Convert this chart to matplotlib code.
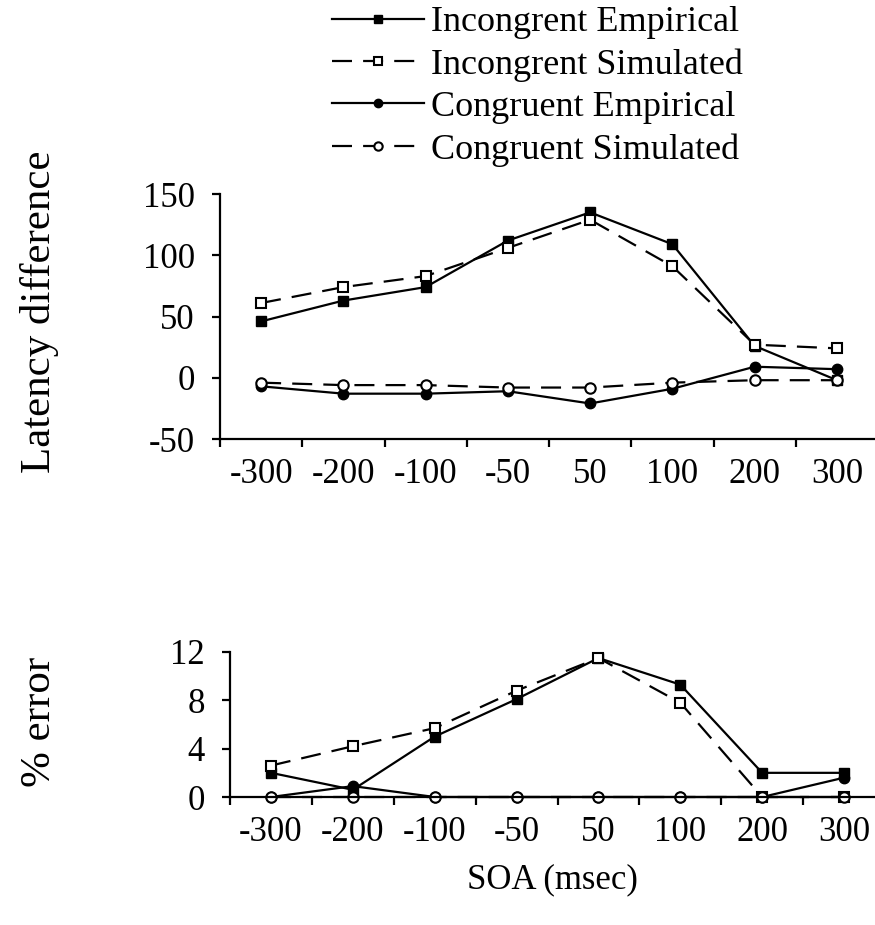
import numpy as np
import matplotlib.pyplot as plt
from matplotlib.ticker import FixedLocator, NullFormatter

plt.rcParams['font.family'] = ['Liberation Serif', 'DejaVu Serif']
plt.rcParams['axes.unicode_minus'] = False

# SOA categories
soa = ['-300', '-200', '-100', '-50', '50', '100', '200', '300']

# latency difference
lat_incon_emp = [46, 63, 74, 112, 135, 109, 26, -2]
lat_incon_sim = [61, 74, 83, 106, 129, 91, 27, 24]
lat_con_emp = [-7, -13, -13, -11, -21, -9, 9, 7]
lat_con_sim = [-4, -6, -6, -8, -8, -4, -2, -2]

# % error
err_incon_emp = [2.0, 0.6, 5.0, 8.1, 11.5, 9.3, 2.0, 2.0]
err_incon_sim = [2.6, 4.2, 5.7, 8.8, 11.5, 7.8, 0.0, 0.0]
err_con_emp = [0.0, 0.9, 0.0, 0.0, 0.0, 0.0, 0.0, 1.6]
err_con_sim = [0.0, 0.0, 0.0, 0.0, 0.0, 0.0, 0.0, 0.0]

labels = ['Incongrent Empirical', 'Incongrent Simulated',
          'Congruent Empirical', 'Congruent Simulated']

W, H = 875, 925
fig = plt.figure(figsize=(W / 100, H / 100), dpi=100)

FS = 25
lw = 1.6
dash = (0, (9, 5))
styles = [
    dict(ls='-', marker='s', mfc='black', mec='black', ms=7.5),
    dict(ls=dash, marker='s', mfc='white', mec='black', ms=7.5, mew=1.5),
    dict(ls='-', marker='o', mfc='black', mec='black', ms=7.5),
    dict(ls=dash, marker='o', mfc='white', mec='black', ms=7.5, mew=1.5),
]


def px_axes(left, top, right, bottom):
    return fig.add_axes([left / W, 1 - bottom / H, (right - left) / W, (bottom - top) / H])


def style_axes(ax, yticks):
    x = np.arange(len(soa))
    ax.set_xlim(-0.5, len(soa) - 0.5)
    ax.set_xticks(x)
    ax.set_xticklabels(soa)
    ax.xaxis.set_minor_locator(FixedLocator(np.arange(-0.5, len(soa), 1.0)))
    ax.xaxis.set_minor_formatter(NullFormatter())
    ax.tick_params(axis='x', which='major', length=0, pad=14, labelsize=FS)
    ax.tick_params(axis='x', which='minor', length=6, width=lw, direction='out')
    ax.set_yticks(yticks)
    ax.tick_params(axis='y', length=6, width=lw, direction='out', pad=12, labelsize=FS)
    for s in ['top', 'right']:
        ax.spines[s].set_visible(False)
    for s in ['left', 'bottom']:
        ax.spines[s].set_linewidth(lw)
    ax.patch.set_visible(False)


# top panel: latency difference
ax1 = px_axes(220, 194, 878, 439)
x = np.arange(len(soa))
handles = []
for ys, st, lab in zip([lat_incon_emp, lat_incon_sim, lat_con_emp, lat_con_sim], styles, labels):
    h, = ax1.plot(x, ys, color='black', lw=lw, label=lab, clip_on=False, **st)
    handles.append(h)
ax1.set_ylim(-50, 150)
style_axes(ax1, [-50, 0, 50, 100, 150])

# bottom panel: % error
ax2 = px_axes(230, 652, 885, 797)
for ys, st in zip([err_incon_emp, err_incon_sim, err_con_emp, err_con_sim], styles):
    ax2.plot(x, ys, color='black', lw=lw, clip_on=False, **st)
ax2.set_ylim(0, 12)
style_axes(ax2, [0, 4, 8, 12])

fig.legend(handles=handles, loc='upper left', bbox_to_anchor=(332 / W, 1 - 6 / H),
           frameon=False, fontsize=26, handlelength=2.55, handletextpad=0.2,
           labelspacing=0.25, borderpad=0, borderaxespad=0, markerscale=0.8)

fig.text(40 / W, 1 - 312 / H, 'Latency difference', rotation=90, fontsize=31,
         ha='center', va='center')
fig.text(40 / W, 1 - 722 / H, '% error', rotation=90, fontsize=31,
         ha='center', va='center')
fig.text(552 / W, 1 - 880 / H, 'SOA (msec)', fontsize=FS, ha='center', va='center')

fig.savefig('out.png', dpi=100)
